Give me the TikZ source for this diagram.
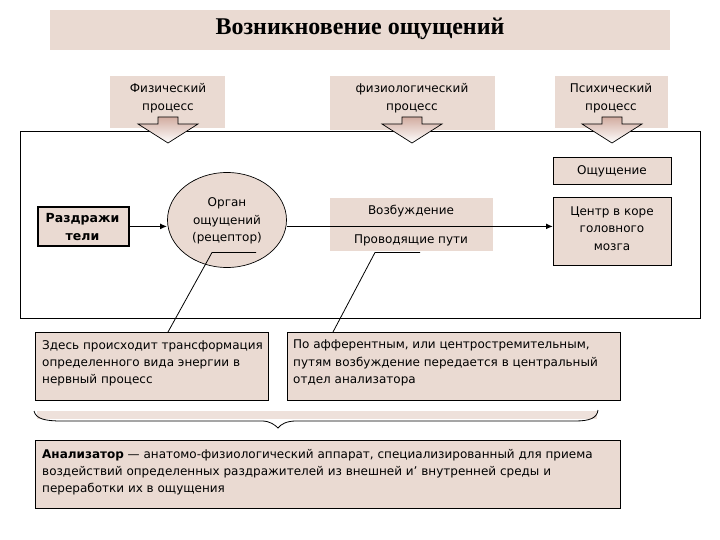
\documentclass[tikz,border=0pt]{standalone}
\usepackage{fontspec}
\setmainfont{DejaVu Sans}
\newfontfamily\titlefont{Liberation Serif}
\usetikzlibrary{arrows.meta,shapes.geometric}
\definecolor{boxfill}{RGB}{234,218,210}
\definecolor{arrfill}{RGB}{210,172,160}
\tikzset{
  plain/.style={fill=boxfill, draw=none, inner sep=0pt},
  framed/.style={fill=boxfill, draw=black, line width=0.9pt, inner sep=0pt},
  txt/.style={inner sep=0pt, align=center, font=\fontsize{12}{17.5}\selectfont},
  ltxt/.style={inner sep=0pt, align=left, anchor=north west, font=\fontsize{12}{17.3}\selectfont},
  conn/.style={line width=1.6pt, -{Latex[length=7pt,width=6pt]}},
  callout/.style={line width=0.8pt},
  downarr/.pic={
    \draw[line width=0.7pt, top color=arrfill, bottom color=white]
      (-10,-13) -- (10,-13) -- (10,-6) -- (30,-6) -- (0,13) -- (-30,-6) -- (-10,-6) -- cycle;
  }
}
\begin{document}
\begin{tikzpicture}[x=1pt,y=-1pt]
\useasboundingbox (0,0) rectangle (720,540);
% title
\node[plain, minimum width=620pt, minimum height=40pt, anchor=north west] (title) at (50,10) {};
\node[inner sep=0pt, font=\titlefont\bfseries\fontsize{24}{26}\selectfont] (titletxt) at (360,29) {Возникновение ощущений};
% process boxes
\node[plain, minimum width=115pt, minimum height=52pt, anchor=north west] (phys) at (110,76) {};
\node[txt] (physt) at (168,98) {Физический\\процесс};
\node[plain, minimum width=165pt, minimum height=54pt, anchor=north west] (physio) at (330,76) {};
\node[txt] (physiot) at (412,98) {физиологический\\процесс};
\node[plain, minimum width=113pt, minimum height=52pt, anchor=north west] (psych) at (555,76) {};
\node[txt] (psycht) at (611,98) {Психический\\процесс};
% frame
\draw[line width=0.9pt] (20,131) rectangle (700,318);
% arrows
\pic at (168,130) {downarr};
\pic at (412,130) {downarr};
\pic at (612,130) {downarr};
% inner nodes
\node[framed, line width=1.8pt, minimum width=91pt, minimum height=39pt, anchor=north west] (razd) at (37,206) {};
\node[txt, font=\bfseries\fontsize{12.5}{18}\selectfont] (razdt) at (82.5,227) {Раздражи\\тели};
\node[ellipse, fill=boxfill, draw=black, line width=0.7pt, minimum width=119pt, minimum height=95pt, inner sep=0pt] (organ) at (227,220) {};
\node[txt] (organt) at (227,221) {Орган\\ощущений\\(рецептор)};
\node[plain, minimum width=163pt, minimum height=53pt, anchor=north west] (vozb) at (330,198) {};
\node[txt] (vozbt) at (411,211) {Возбуждение};
\node[txt] (provt) at (411,240) {Проводящие пути};
\node[framed, minimum width=118pt, minimum height=27pt, anchor=north west] (oshch) at (553,157) {};
\node[txt] (oshcht) at (612,171) {Ощущение};
\node[framed, minimum width=118pt, minimum height=68pt, anchor=north west] (centr) at (553,197) {};
\node[txt] (centrt) at (612,228.5) {Центр в коре\\головного\\мозга};
% connectors
\draw[conn] (razd.east) -- (organ.west |- razd.east);
\draw[conn] (organ.east |- razd.east) -- (centr.west |- razd.east);
% comment boxes
\node[framed, minimum width=233pt, minimum height=68pt, anchor=north west] (com1) at (35,332) {};
\node[ltxt] (com1t) at (42,340) {Здесь происходит трансформация\\определенного вида энергии в\\нервный процесс};
\node[framed, minimum width=333pt, minimum height=68pt, anchor=north west] (com2) at (287,332) {};
\node[ltxt] (com2t) at (293,340) {По афферентным, или центростремительным,\\путям возбуждение передается в центральный\\отдел анализатора};
% callouts
\coordinate (c1a) at (256,252.5);
\coordinate (c1b) at (212,252.5);
\coordinate (c1c) at (168,332);
\draw[callout] (c1a) -- (c1b) -- (c1c);
\coordinate (c2a) at (420,252.5);
\coordinate (c2b) at (375,252.5);
\coordinate (c2c) at (333,332);
\draw[callout] (c2a) -- (c2b) -- (c2c);
% brace
\fill[boxfill!80] (37,411) rectangle (597,419);
\draw[line width=0.8pt] (34,411) .. controls (36,419) and (45,421) .. (62,421) -- (262,421)
  .. controls (270,421) and (275,425) .. (278,428) .. controls (281,424) and (287,421) .. (296,421)
  -- (575,421) .. controls (590,421) and (597,418) .. (598,410);
% bottom box
\node[framed, minimum width=585pt, minimum height=68pt, anchor=north west] (anal) at (35,440) {};
\node[ltxt] (analt) at (42,449) {\textbf{Анализатор} — анатомо-физиологический аппарат, специализированный для приема\\воздействий определенных раздражителей из внешней и' внутренней среды и\\переработки их в ощущения};
\end{tikzpicture}
\end{document}
